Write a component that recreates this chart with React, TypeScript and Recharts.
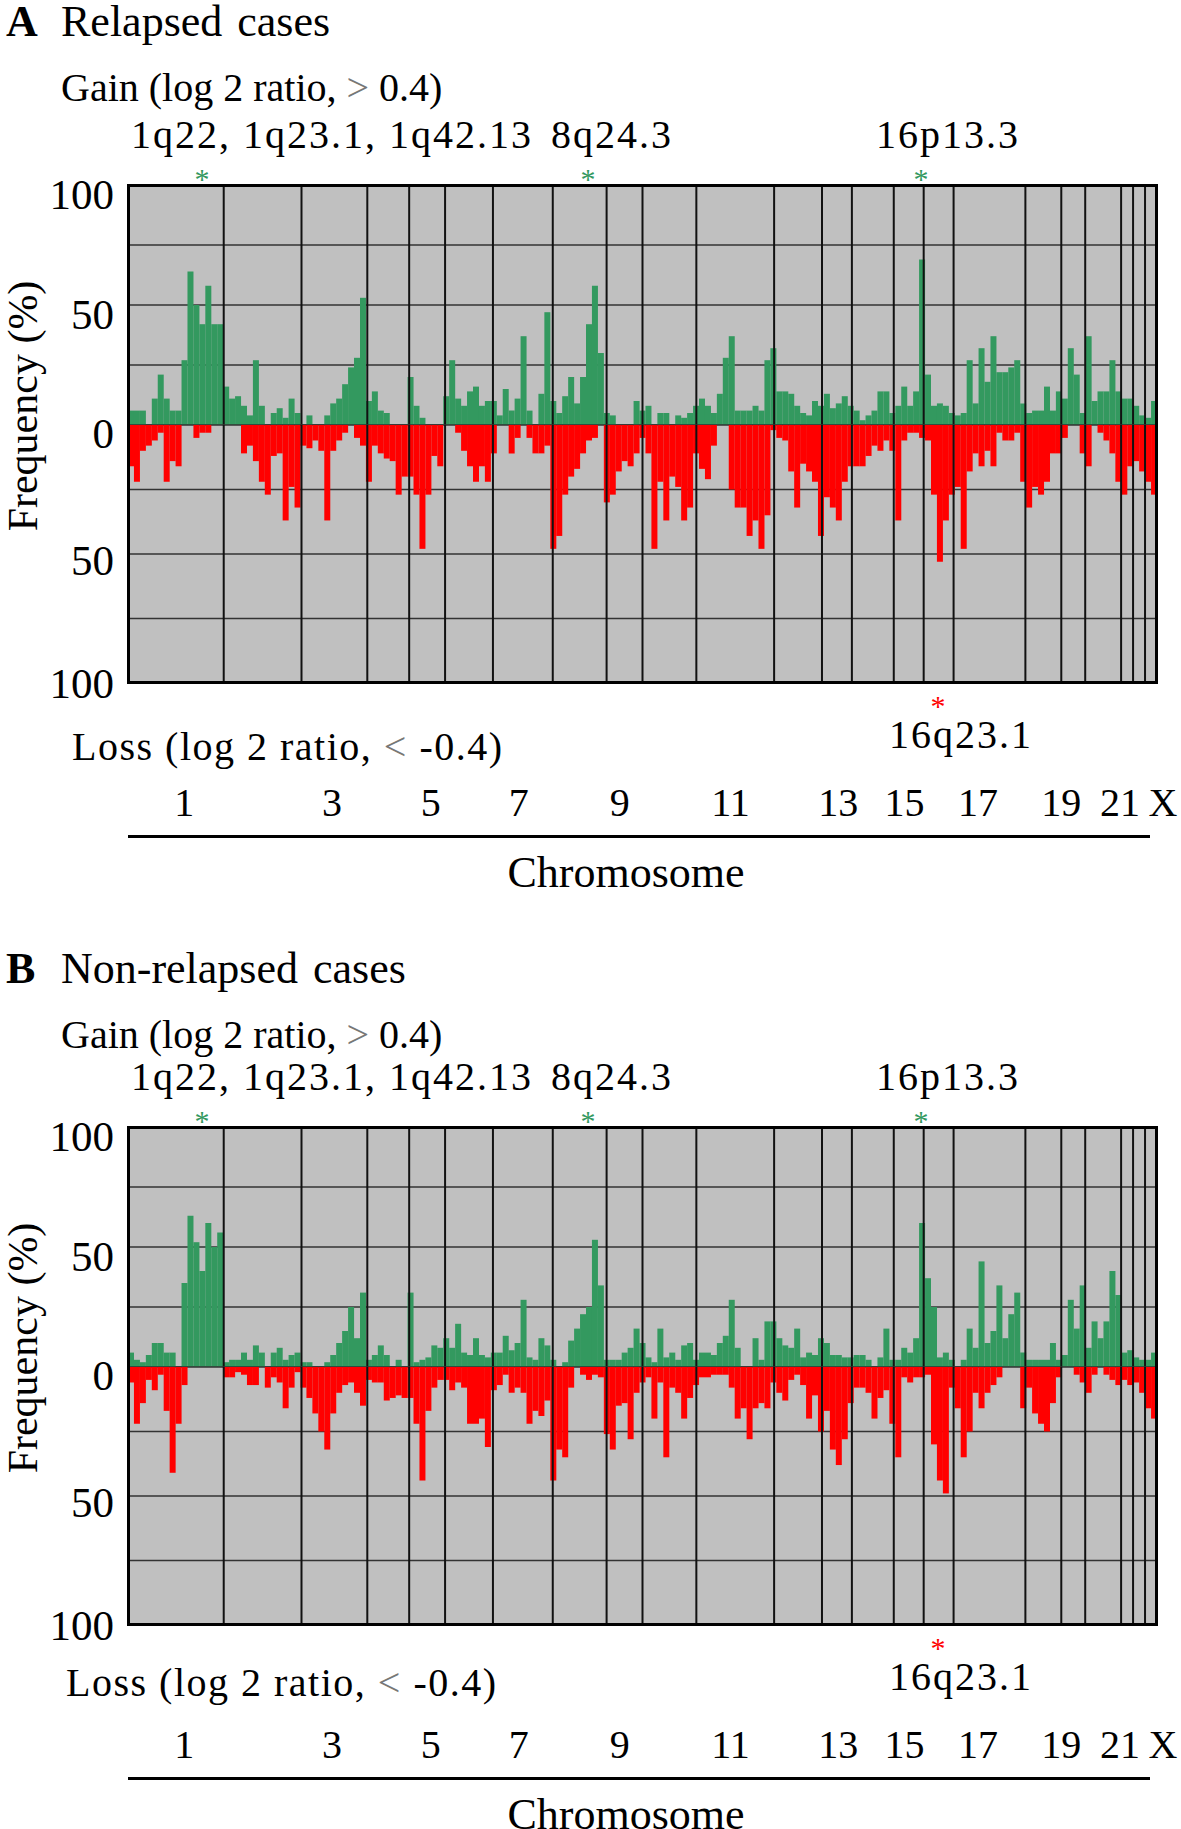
// Fréquences de gains / pertes par chromosome (cas rechutés vs non rechutés)
import { BarChart, Bar, XAxis, YAxis, CartesianGrid, ReferenceLine } from 'recharts';

const SERIF = '"Liberation Serif", "Times New Roman", serif';
const GREEN = '#33995f';
const RED = '#ff0000';

// Découpage de l'axe : nombre de classes (bins) par chromosome
const chromosomes = ['1', '2', '3', '4', '5', '6', '7', '8', '9', '10', '11', '12', '13', '14', '15', '16', '17', '18', '19', '20', '21', '22', 'X'];
const binsPerChrom = [16, 13, 11, 7, 6, 8, 10, 9, 6, 9, 13, 8, 5, 7, 5, 5, 12, 6, 4, 6, 2, 2, 3];

// Étiquettes de l'axe X (position en unités de bins)
const axisLabels = ['1', '3', '5', '7', '9', '11', '13', '15', '17', '19', '21', 'X'];
const axisLabelPos = [9.4, 34.1, 50.6, 65.3, 82.2, 100.7, 118.7, 129.8, 142.1, 156, 165.8, 173];

// A : cas rechutés, gains (%)
const relapsedGain = [
  6, 6, 6, 0, 11, 21, 11, 6, 6, 27, 64, 50, 42, 58, 42, 42, // 1
  16, 11, 12, 8, 4, 27, 8, 0, 5, 7, 3, 11, 5, // 2
  0, 4, 0, 0, 4, 9, 11, 17, 24, 28, 53, // 3
  10, 14, 6, 5, 0, 0, 0, // 4
  20, 8, 3, 0, 0, 0, // 5
  12, 27, 11, 8, 14, 16, 8, 10, // 6
  10, 4, 15, 6, 11, 37, 6, 0, 13, 47, // 7
  10, 5, 12, 20, 9, 20, 42, 58, 30, // 8
  5, 4, 0, 0, 0, 10, // 9
  6, 8, 0, 5, 5, 0, 4, 3, 5, // 10
  8, 11, 8, 5, 13, 28, 37, 6, 6, 6, 8, 6, 27, // 11
  32, 14, 14, 13, 8, 5, 4, 10, // 12
  8, 13, 7, 9, 12, // 13
  8, 6, 2, 4, 6, 14, 14, // 14
  5, 8, 16, 8, 14, // 15
  69, 21, 8, 9, 8, // 16
  5, 4, 5, 27, 9, 32, 18, 37, 22, 22, 24, 27, // 17
  9, 5, 6, 6, 16, 6, // 18
  14, 11, 32, 21, // 19
  5, 37, 10, 14, 14, 27, // 20
  14, 11, // 21
  11, 8, // 22
  4, 3, 10, // X
];

// A : cas rechutés, pertes (%)
const relapsedLoss = [
  16, 22, 10, 8, 6, 3, 22, 14, 16, 0, 0, 5, 3, 3, 0, 0,
  0, 0, 0, 11, 8, 14, 22, 27, 12, 11, 37, 24, 32,
  8, 9, 6, 10, 37, 10, 6, 3, 0, 5, 8,
  22, 8, 11, 13, 14, 27, 20,
  20, 27, 48, 27, 12, 16,
  0, 0, 3, 10, 16, 22, 16, 22,
  11, 0, 0, 11, 5, 0, 5, 11, 11, 8,
  48, 43, 27, 20, 17, 11, 6, 5, 0,
  30, 27, 18, 14, 16, 11,
  5, 11, 48, 22, 37, 20, 24, 37, 32,
  11, 17, 21, 8, 0, 0, 25, 32, 32, 43, 37, 48, 35,
  2, 5, 6, 18, 32, 15, 18, 22,
  43, 28, 32, 37, 22,
  16, 16, 16, 12, 8, 10, 6,
  10, 37, 6, 3, 3,
  5, 6, 27, 53, 37,
  27, 24, 48, 18, 11, 16, 10, 16, 3, 6, 6, 3,
  22, 32, 24, 27, 22, 11,
  11, 5, 0, 0,
  11, 16, 0, 3, 6, 11,
  22, 27,
  16, 14,
  18, 22, 27,
];

// B : cas non rechutés, gains (%)
const nonRelapsedGain = [
  6, 3, 2, 5, 10, 10, 6, 6, 0, 35, 63, 52, 40, 60, 50, 56,
  2, 3, 3, 6, 3, 9, 6, 0, 6, 8, 3, 5, 6,
  2, 2, 0, 0, 2, 5, 10, 15, 25, 12, 31,
  3, 5, 9, 5, 0, 3, 0,
  31, 2, 3, 4, 9, 8,
  12, 8, 18, 6, 5, 12, 5, 4,
  6, 6, 13, 7, 10, 28, 4, 3, 12, 9,
  3, 0, 2, 11, 16, 22, 25, 53, 34,
  3, 3, 3, 6, 8, 16,
  10, 4, 2, 16, 4, 6, 3, 9, 10,
  3, 6, 6, 5, 10, 13, 28, 8, 0, 0, 12, 3, 19,
  19, 12, 9, 8, 16, 4, 6, 5,
  12, 10, 5, 5, 4,
  4, 5, 5, 3, 0, 4, 16,
  3, 3, 8, 6, 12,
  60, 37, 25, 4, 6,
  3, 0, 3, 16, 8, 44, 10, 15, 34, 12, 22, 31,
  6, 3, 3, 3, 3, 10,
  3, 5, 28, 16,
  34, 8, 19, 12, 19, 40,
  30, 6,
  7, 4,
  3, 3, 6,
];

// B : cas non rechutés, pertes (%)
const nonRelapsedLoss = [
  6, 22, 14, 5, 9, 3, 17, 41, 22, 7, 0, 0, 0, 0, 0, 0,
  4, 4, 2, 3, 7, 7, 0, 8, 4, 6, 16, 8, 2,
  8, 12, 18, 25, 32, 18, 10, 7, 6, 10, 15,
  5, 6, 6, 13, 12, 11, 12,
  12, 22, 44, 17, 8, 5,
  5, 9, 6, 8, 22, 22, 20, 31,
  9, 7, 3, 10, 8, 10, 22, 17, 19, 13,
  44, 32, 35, 8, 0, 3, 5, 3, 4,
  26, 32, 15, 14, 28, 10,
  6, 4, 20, 6, 35, 8, 10, 20, 12,
  7, 4, 4, 3, 3, 3, 8, 20, 16, 28, 16, 14, 16,
  6, 10, 13, 5, 3, 7, 20, 11,
  25, 17, 32, 38, 28,
  14, 8, 8, 10, 20, 12, 9,
  22, 35, 4, 6, 4,
  4, 3, 30, 44, 49,
  8, 16, 35, 25, 10, 16, 10, 7, 4, 0, 0, 0,
  16, 8, 18, 22, 25, 14,
  4, 0, 0, 3,
  6, 10, 3, 0, 3, 5,
  7, 5,
  7, 6,
  10, 16, 20,
];

const TOTAL = binsPerChrom.reduce((a, b) => a + b, 0);

// Limites entre chromosomes (cumul des bins)
const boundaries: number[] = [];
binsPerChrom.slice(0, -1).reduce((acc, n) => {
  boundaries.push(acc + n);
  return acc + n;
}, 0);

function makeRows(gain: number[], loss: number[]) {
  return gain.map((g, i) => ({ bin: i, gain: g, loss: -loss[i] }));
}

// Texte positionné (centre vertical sur y)
function T({ x, y, size = 40, anchor = 'start', style, children }: any) {
  const tx = anchor === 'middle' ? '-50%' : anchor === 'end' ? '-100%' : '0';
  return (
    <div
      style={{
        position: 'absolute',
        left: x,
        top: y,
        fontSize: size,
        lineHeight: 1,
        fontFamily: SERIF,
        whiteSpace: 'nowrap',
        color: '#000',
        transform: `translate(${tx}, -50%)`,
        ...style,
      }}
    >
      {children}
    </div>
  );
}

const tickText = (x: number, y: number, label: string | number) => (
  <text x={x} y={y} textAnchor="end" dominantBaseline="central" fontFamily={SERIF} fontSize={43} fill="#000">
    {label}
  </text>
);

const gainTick = (p: any) => {
  const v = p.payload.value;
  if (v !== 50 && v !== 100) return <g />;
  return tickText(114, p.y + 9, v);
};

const lossTick = (p: any) => {
  const v = p.payload.value;
  if (v === 0) return tickText(114, p.y + 8, 0);
  if (v !== -50 && v !== -100) return <g />;
  return tickText(114, p.y + (v === -50 ? 6 : 0), Math.abs(v));
};

const chromTick = (p: any) => {
  const idx = axisLabelPos.indexOf(p.payload.value);
  return (
    <text x={p.x} y={377} textAnchor="middle" dominantBaseline="central" fontFamily={SERIF} fontSize={40} fill="#000">
      {axisLabels[idx]}
    </text>
  );
};

function Panel({ top, letter, title, gain, loss, lossX, headDy, lossDy }: any) {
  const rows = makeRows(gain, loss);
  const star = (x: number, y: number, color: string) => (
    <T x={x} y={y + 6} size={30} anchor="middle" style={{ color, lineHeight: 0.4 }}>*</T>
  );
  return (
    <div style={{ position: 'absolute', left: 0, top, width: 1181, height: 942 }}>
      <T x={6} y={22 + headDy} size={44} style={{ fontWeight: 'bold', lineHeight: 0.9 }}>{letter}</T>
      <T x={61} y={22 + headDy} size={44} style={{ wordSpacing: 4, lineHeight: 0.9 }}>{title}</T>
      <T x={61} y={88 + headDy}>
        Gain (log 2 ratio, <span style={{ color: '#777' }}>&gt;</span> 0.4)
      </T>
      <T x={131} y={135} style={{ letterSpacing: 2 }}>1q22, 1q23.1, 1q42.13</T>
      <T x={551} y={135} style={{ letterSpacing: 2 }}>8q24.3</T>
      <T x={876} y={135} style={{ letterSpacing: 2 }}>16p13.3</T>
      {star(202, 173, GREEN)}
      {star(588, 173, GREEN)}
      {star(921, 173, GREEN)}

      <T x={23} y={406} size={42} style={{ transform: 'translate(-50%, -50%) rotate(-90deg)' }}>
        Frequency (%)
      </T>

      <div style={{ position: 'absolute', left: 0, top: 0 }}>
        <BarChart
          width={1181}
          height={425}
          data={rows}
          margin={{ top: 185, right: 24, bottom: 0, left: 68 }}
          barCategoryGap={0}
          barGap={0}
        >
          <CartesianGrid xAxisId="num" vertical={false} stroke="#333" strokeWidth={1.5} fill="#c0c0c0" fillOpacity={1} />
          <XAxis xAxisId="cat" dataKey="bin" hide />
          <XAxis xAxisId="num" type="number" domain={[0, TOTAL]} allowDataOverflow hide />
          <YAxis
            domain={[0, 100]}
            ticks={[0, 25, 50, 75, 100]}
            interval={0}
            width={60}
            axisLine={false}
            tickLine={false}
            tick={gainTick}
          />
          <Bar xAxisId="cat" dataKey="gain" fill={GREEN} isAnimationActive={false} />
          {boundaries.map((b) => (
            <ReferenceLine key={b} xAxisId="num" x={b} stroke="#111" strokeWidth={2} />
          ))}
        </BarChart>
      </div>

      <div style={{ position: 'absolute', left: 0, top: 425 }}>
        <BarChart
          width={1181}
          height={418}
          data={rows}
          margin={{ top: 0, right: 24, bottom: 0, left: 68 }}
          barCategoryGap={0}
          barGap={0}
          style={{ overflow: 'visible' }}
        >
          <CartesianGrid xAxisId="num" vertical={false} stroke="#333" strokeWidth={1.5} fill="#c0c0c0" fillOpacity={1} />
          <XAxis xAxisId="cat" dataKey="bin" hide />
          <XAxis
            xAxisId="num"
            type="number"
            domain={[0, TOTAL]}
            allowDataOverflow
            ticks={axisLabelPos}
            interval={0}
            height={160}
            axisLine={false}
            tickLine={false}
            tick={chromTick}
          />
          <YAxis
            domain={[-100, 0]}
            ticks={[-100, -75, -50, -25, 0]}
            interval={0}
            width={60}
            axisLine={false}
            tickLine={false}
            tick={lossTick}
          />
          <Bar xAxisId="cat" dataKey="loss" fill={RED} isAnimationActive={false} />
          {boundaries.map((b) => (
            <ReferenceLine key={b} xAxisId="num" x={b} stroke="#111" strokeWidth={2} />
          ))}
        </BarChart>
      </div>

      {/* cadre du graphique */}
      <div
        style={{
          position: 'absolute',
          left: 127,
          top: 184,
          width: 1031,
          height: 500,
          border: '3px solid #000',
          boxSizing: 'border-box',
          pointerEvents: 'none',
        }}
      />

      <T x={889} y={735} style={{ letterSpacing: 2 }}>16q23.1</T>
      {star(938, 700, RED)}
      <T x={lossX} y={747 + lossDy} style={{ letterSpacing: 1.5 }}>
        Loss (log 2 ratio, <span style={{ color: '#777' }}>&lt;</span> -0.4)
      </T>

      <div style={{ position: 'absolute', left: 128, top: 835, width: 1022, height: 3, background: '#000' }} />
      <T x={626} y={873} size={44} anchor="middle">Chromosome</T>
    </div>
  );
}

export default function App() {
  return (
    <div
      style={{
        position: 'absolute',
        left: 0,
        top: 0,
        width: 1181,
        height: 1829,
        overflow: 'hidden',
        background: '#fff',
      }}
    >
      <style>{`.recharts-surface { overflow: visible; } .recharts-wrapper { overflow: visible; }`}</style>
      <Panel top={0} letter="A" title="Relapsed cases" gain={relapsedGain} loss={relapsedLoss} lossX={72} headDy={0} lossDy={0} />
      <Panel top={942} letter="B" title="Non-relapsed cases" gain={nonRelapsedGain} loss={nonRelapsedLoss} lossX={66} headDy={5} lossDy={-6} />
    </div>
  );
}
